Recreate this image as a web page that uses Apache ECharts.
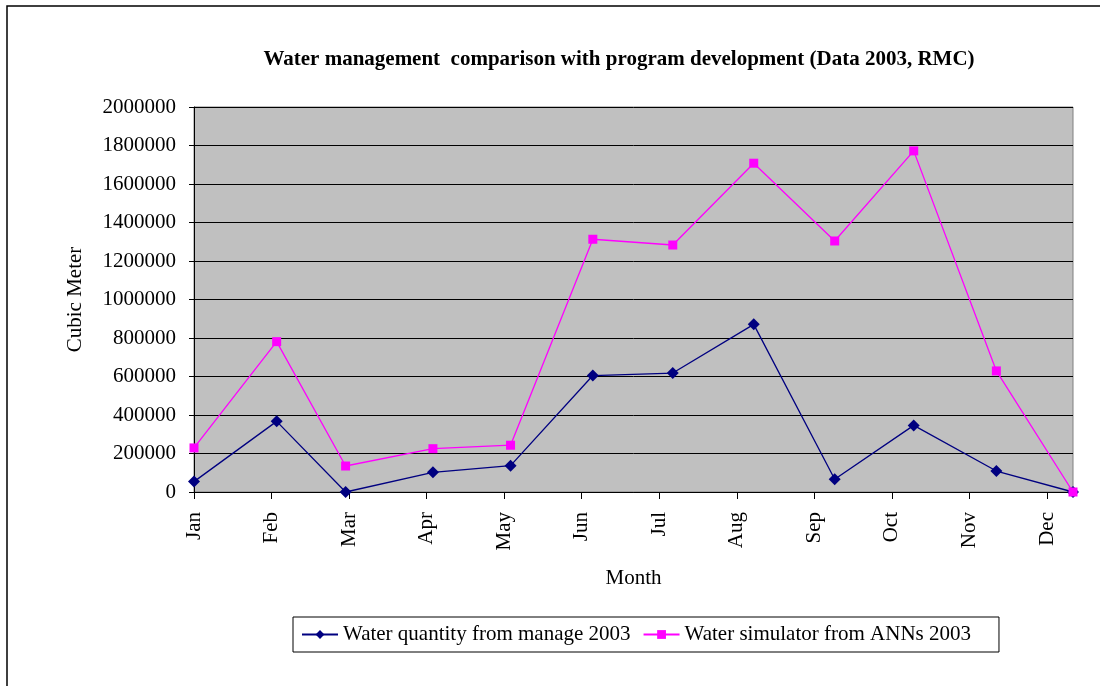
<!DOCTYPE html>
<html>
<head>
<meta charset="utf-8">
<title>Water management comparison</title>
<script src="https://cdn.jsdelivr.net/npm/echarts@6/dist/echarts.min.js"></script>
<style>
  html, body { margin: 0; padding: 0; background: #fff; }
  #chart { width: 1100px; height: 686px; }
</style>
</head>
<body>
<div id="chart"></div>
<script>
// Month labels on the horizontal axis
const months = ['Jan', 'Feb', 'Mar', 'Apr', 'May', 'Jun', 'Jul', 'Aug', 'Sep', 'Oct', 'Nov', 'Dec'];
// Horizontal position of each monthly reading, in month-tick units
const monthPos = [0, 1.066, 1.955, 3.081, 4.082, 5.143, 6.174, 7.218, 8.262, 9.281, 10.347, 11.335];
// Monthly water quantities (cubic meters)
const managed2003 = [54000, 367000, 0, 102000, 137000, 605000, 618000, 871000, 66000, 346000, 109000, 0];
const annSim2003 = [229000, 781000, 135000, 225000, 243000, 1313000, 1283000, 1708000, 1304000, 1772000, 629000, 0];
// Vertical axis ticks
const yTicks = [0, 200000, 400000, 600000, 800000, 1000000, 1200000, 1400000, 1600000, 1800000, 2000000];
const xMax = 11.335;

const serif = 'Liberation Serif, Times New Roman, serif';
const pair = (vals) => vals.map((v, i) => [monthPos[i], v]);

const chart = echarts.init(document.getElementById('chart'), null, { renderer: 'canvas' });
chart.setOption({
  backgroundColor: '#fff',
  animation: false,
  title: {
    text: 'Water management  comparison with program development (Data 2003, RMC)',
    left: 614,
    textAlign: 'center',
    top: 44,
    textStyle: { fontFamily: serif, fontSize: 21, fontWeight: 'bold', color: '#000' }
  },
  graphic: [{
    type: 'rect',
    shape: { x: 7, y: 6, width: 1200, height: 800 },
    style: { fill: 'none', stroke: '#000', lineWidth: 1.5 },
    silent: true
  }],
  legend: {
    left: 293,
    top: 617,
    width: 780,
    itemWidth: 36,
    itemHeight: 11,
    itemGap: 12,
    padding: [7, 28, 7, 8],
    borderColor: '#000',
    borderWidth: 1,
    textStyle: { fontFamily: serif, fontSize: 21, color: '#000' },
    data: ['Water quantity from manage 2003', 'Water simulator from ANNs 2003']
  },
  grid: {
    left: 194,
    right: 27,
    top: 107,
    bottom: 194,
    show: true,
    backgroundColor: '#C0C0C0',
    borderColor: '#808080',
    borderWidth: 1
  },
  xAxis: {
    type: 'value',
    min: 0,
    max: xMax,
    interval: 1,
    name: 'Month',
    nameLocation: 'middle',
    nameGap: 76,
    nameTextStyle: { fontFamily: serif, fontSize: 21, color: '#000' },
    axisLine: { show: true, onZero: false, lineStyle: { color: '#000', width: 1 } },
    axisTick: { show: true, length: 7, lineStyle: { color: '#000' }, customValues: months.map((m, i) => i) },
    axisLabel: {
      customValues: months.map((m, i) => i),
      rotate: 90,
      margin: 20,
      fontFamily: serif,
      fontSize: 21,
      color: '#000',
      formatter: (v) => months[Math.round(v)] || ''
    },
    splitLine: { show: false }
  },
  yAxis: {
    type: 'value',
    min: yTicks[0],
    max: yTicks[yTicks.length - 1],
    interval: yTicks[1] - yTicks[0],
    name: 'Cubic Meter',
    nameLocation: 'middle',
    nameRotate: 90,
    nameGap: 108,
    nameTextStyle: { fontFamily: serif, fontSize: 21, color: '#000' },
    axisLine: { show: true, lineStyle: { color: '#000', width: 1 } },
    axisTick: { show: true, length: 5, lineStyle: { color: '#000' } },
    axisLabel: {
      margin: 18,
      fontFamily: serif,
      fontSize: 21,
      color: '#000',
      formatter: (v) => String(v)
    },
    splitLine: { show: true, lineStyle: { color: '#000', width: 1 } }
  },
  series: [
    {
      name: 'Water quantity from manage 2003',
      type: 'line',
      data: pair(managed2003),
      symbol: 'diamond',
      symbolSize: 12,
      color: '#000080',
      lineStyle: { color: '#000080', width: 1.3 },
      itemStyle: { color: '#000080' },
      clip: false
    },
    {
      name: 'Water simulator from ANNs 2003',
      type: 'line',
      data: pair(annSim2003),
      symbol: 'rect',
      symbolSize: 9,
      color: '#FF00FF',
      lineStyle: { color: '#FF00FF', width: 1.3 },
      itemStyle: { color: '#FF00FF' },
      clip: false
    }
  ]
});
</script>
</body>
</html>
